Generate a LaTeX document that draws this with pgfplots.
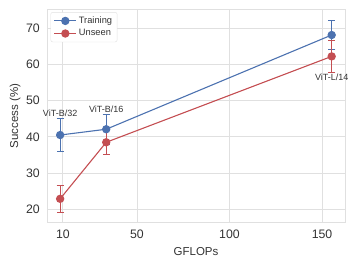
\documentclass[border=0pt]{standalone}
\usepackage{pgfplots}
\pgfplotsset{compat=1.18}
\usepackage{fontspec}
\setmainfont{Liberation Sans}
\definecolor{sblue}{HTML}{4C72B0}
\definecolor{sred}{HTML}{C44E52}
\definecolor{gridc}{HTML}{E0E0E0}
\definecolor{txt}{HTML}{333333}
\begin{document}
\begin{tikzpicture}
\begin{axis}[
  scale only axis, width=298pt, height=212pt,
  xmin=1.4, xmax=162.4, ymin=16.5, ymax=75,
  xtick={10,50,100,150}, ytick={20,30,40,50,60,70},
  /pgf/number format/assume math mode=true,
  tick label style={font=\fontsize{12.3}{14}\selectfont, text=txt, inner sep=0pt},
  xticklabel style={anchor=north, yshift=-8pt},
  yticklabel style={anchor=east, xshift=-7pt},
  xlabel={GFLOPs}, ylabel={Success (\%)},
  every axis x label/.style={at={(axis description cs:0.5,-0.156)}, anchor=base, font=\fontsize{11.5}{13}\selectfont, text=txt},
  every axis y label/.style={at={(axis description cs:-0.107,0.5)}, anchor=center, rotate=90, font=\fontsize{11.5}{13}\selectfont, text=txt},
  grid=major, grid style={gridc, line width=0.9pt},
  axis line style={gridc, line width=1pt},
  major tick length=0pt,
  clip=false,
  legend style={font=\fontsize{9.3}{11}\selectfont, text=txt, draw=gridc, rounded corners=2pt, inner xsep=3pt, inner ysep=2.5pt, row sep=0.5pt, at={(axis description cs:0.012,0.99)}, anchor=north west},
  legend cell align=left,
  legend image code/.code={\draw[mark repeat=2,mark phase=2] plot coordinates {(0pt,0pt) (11pt,0pt) (22pt,0pt)};},
]
\addplot[sblue, line width=1.1pt, mark=*, mark size=3.6pt, mark options={fill=sblue, draw=sblue},
  error bars/.cd, y dir=both, y explicit, error bar style={line width=1pt}, error mark options={rotate=90, mark size=3.6pt, line width=1pt}]
  coordinates {(8.5,40.5) +- (0,4.5) (33.4,42.1) +- (0,4.2) (155.2,68.1) +- (0,4.1)};
\addlegendentry{Training}
\addplot[sred, line width=1.1pt, mark=*, mark size=3.6pt, mark options={fill=sred, draw=sred},
  error bars/.cd, y dir=both, y explicit, error bar style={line width=1pt}, error mark options={rotate=90, mark size=3.6pt, line width=1pt}]
  coordinates {(8.5,22.9) +- (0,3.8) (33.4,38.5) +- (0,3.5) (155.2,62.2) +- (0,4.4)};
\addlegendentry{Unseen}
\node[font=\fontsize{9}{10.5}\selectfont, text=txt, anchor=south, inner sep=1.5pt] at (axis cs:8.5,45.0) {ViT-B/32};
\node[font=\fontsize{9}{10.5}\selectfont, text=txt, anchor=south, inner sep=1.5pt] at (axis cs:33.4,46.3) {ViT-B/16};
\node[font=\fontsize{9}{10.5}\selectfont, text=txt, anchor=north, inner sep=1.5pt] at (axis cs:155.2,57.8) {ViT-L/14};
\coordinate (SW) at (rel axis cs:0,0);
\coordinate (NE) at (rel axis cs:1,1);
\end{axis}
\pgfresetboundingbox
\path ([shift={(-47pt,-46pt)}]SW) rectangle ([shift={(12pt,10pt)}]NE);
\end{tikzpicture}
\end{document}
